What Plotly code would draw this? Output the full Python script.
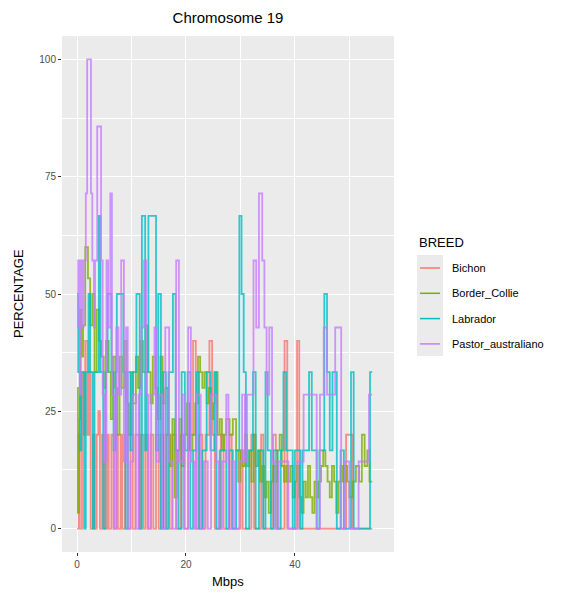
import plotly.graph_objects as go

# Percentage per breed along chromosome 19, stored as step change points (Mbps, %)
bichon_x = [0.0, 0.3, 0.5, 0.9, 1.2, 1.5, 1.9, 2.2, 2.5, 2.9, 3.2, 3.6, 3.9, 4.2, 4.6,
            5.0, 5.5, 5.8, 6.3, 6.7, 7.2, 7.5, 8.0, 8.3, 8.8, 9.3, 9.8, 10.2, 10.7, 11.3,
            11.7, 12.2, 12.6, 13.0, 13.5, 14.0, 14.5, 15.0, 15.4, 15.9, 16.5, 17.0, 17.5,
            18.2, 19.0, 19.6, 20.4, 21.3, 21.8, 22.4, 23.0, 23.6, 24.3, 24.8, 25.3, 26.4,
            26.9, 28.0, 28.4, 30.0, 30.4, 32.0, 32.5, 33.8, 34.2, 36.0, 36.5, 38.1, 38.6,
            40.4, 40.8, 49.4, 50.6, 54.2]
bichon_y = [0, 20, 0, 33.33, 20, 40, 20, 33.33, 0, 20, 0, 20, 25, 0, 20,
            0, 20, 0, 20, 0, 20, 0, 20, 0, 20, 0, 20, 0, 20, 0,
            20, 0, 20, 0, 20, 0, 20, 0, 20, 0, 20, 0, 20,
            0, 20, 0, 20, 40, 0, 20, 0, 20, 40, 20, 0, 20,
            0, 20, 0, 16.67, 0, 20, 0, 20, 0, 20, 0, 40, 0,
            40, 0, 20, 0, 0]

collie_x = [0.0, 0.15, 0.35, 0.55, 0.8, 1.1, 1.5, 2.0, 2.4, 2.8, 3.2, 3.6, 4.0, 4.4, 4.9,
            5.3, 5.8, 6.2, 6.6, 7.0, 7.4, 7.8, 8.2, 8.7, 9.1, 9.5, 9.9, 10.3, 10.8, 11.2,
            11.7, 12.1, 12.6, 13.0, 13.5, 13.9, 14.4, 14.8, 15.3, 15.7, 16.2, 16.7, 17.1,
            17.5, 17.9, 18.3, 18.8, 19.2, 19.7, 20.2, 20.7, 21.2, 21.7, 22.2, 22.6, 23.0,
            23.4, 23.8, 24.2, 24.6, 25.0, 25.4, 25.8, 26.2, 26.6, 27.0, 27.4, 28.0, 28.6,
            29.2, 29.6, 30.0, 30.4, 30.8, 31.2, 31.6, 32.0, 32.4, 32.8, 33.2, 33.6, 34.0,
            34.4, 34.8, 35.2, 35.6, 36.0, 36.4, 36.8, 37.2, 37.6, 38.0, 38.4, 38.8, 39.2,
            39.6, 40.0, 40.4, 40.8, 41.2, 41.6, 42.0, 42.4, 42.8, 43.2, 43.6, 44.0, 44.4,
            44.8, 45.2, 45.6, 46.0, 46.4, 46.8, 47.2, 47.6, 48.0, 48.4, 48.8, 49.2, 49.6,
            50.0, 50.6, 51.2, 51.8, 52.3, 52.8, 53.3, 53.7, 54.2]
collie_y = [30, 3.33, 23.33, 46.67, 36.67, 43.33, 60, 53.33, 43.33, 50, 33.33, 46.67, 40,
            36.67, 30, 40, 33.33, 23.33, 36.67, 30, 20, 36.67, 30, 40, 26.67, 20, 33.33,
            26.67, 36.67, 30, 40, 33.33, 43.33, 33.33, 26.67, 36.67, 30, 23.33, 36.67,
            26.67, 30, 20, 13.33, 23.33, 6.67, 16.67, 23.33, 13.33, 20, 26.67, 16.67, 20,
            26.67, 36.67, 33.33, 30, 33.33, 26.67, 30, 23.33, 26.67, 33.33, 20, 23.33,
            16.67, 20, 23.33, 20, 23.33, 16.67, 10, 16.67, 13.33, 20, 13.33, 16.67, 10,
            20, 13.33, 16.67, 10, 13.33, 6.67, 10, 3.33, 10, 13.33, 10, 16.67, 20, 13.33,
            10, 13.33, 10, 13.33, 6.67, 10, 13.33, 6.67, 3.33, 10, 6.67, 13.33, 6.67, 3.33,
            10, 6.67, 10, 13.33, 16.67, 13.33, 10, 6.67, 13.33, 10, 3.33, 10, 13.33, 10,
            13.33, 10, 6.67, 10, 13.33, 10, 20, 13.33, 16.67, 10, 10]

labrador_x = [0.0, 0.2, 0.5, 0.8, 1.3, 1.6, 2.1, 2.4, 2.9, 3.2, 4.0, 4.3, 4.8, 5.2, 5.6,
              6.3, 6.7, 7.1, 7.3, 8.5, 8.9, 9.3, 9.8, 10.2, 10.9, 11.5, 11.9, 12.5, 12.8,
              13.1, 14.5, 14.9, 15.4, 15.8, 16.3, 16.8, 17.6, 18.1, 18.6, 19.2, 19.8, 20.3,
              20.8, 21.3, 21.9, 22.4, 23.0, 23.8, 24.5, 25.2, 25.6, 26.2, 27.4, 27.9, 28.6,
              29.2, 29.8, 30.2, 30.6, 31.0, 31.6, 32.3, 32.8, 33.4, 34.2, 34.6, 35.0, 35.6,
              36.1, 36.8, 37.4, 37.9, 38.4, 39.6, 40.0, 41.0, 41.4, 42.6, 43.1, 44.0, 44.5,
              45.4, 45.9, 46.4, 46.9, 47.7, 48.4, 49.0, 50.3, 50.8, 53.8, 54.2]
labrador_y = [50, 33.33, 16.67, 33.33, 0, 33.33, 50, 33.33, 0, 33.33, 66.67, 33.33, 0,
              33.33, 50, 33.33, 16.67, 33.33, 50, 33.33, 0, 33.33, 16.67, 33.33, 50, 0,
              66.67, 16.67, 33.33, 66.67, 16.67, 50, 0, 33.33, 0, 33.33, 50, 16.67, 0,
              33.33, 16.67, 33.33, 0, 16.67, 33.33, 0, 16.67, 33.33, 16.67, 33.33, 0,
              16.67, 0, 16.67, 0, 16.67, 66.67, 50, 33.33, 0, 16.67, 33.33, 0, 16.67, 0,
              33.33, 16.67, 0, 16.67, 0, 16.67, 33.33, 16.67, 0, 16.67, 0, 16.67, 33.33,
              16.67, 0, 16.67, 50, 33.33, 16.67, 33.33, 0, 16.67, 0, 33.33, 0, 33.33, 33.33]

pastor_x = [0.0, 0.2, 0.5, 0.7, 1.0, 1.2, 1.6, 1.85, 2.55, 2.8, 3.1, 3.3, 3.7, 4.4, 4.7,
            5.0, 5.4, 5.7, 6.1, 6.4, 6.8, 7.2, 7.6, 8.1, 8.6, 9.0, 9.3, 9.8, 10.3, 10.8,
            11.3, 11.8, 12.3, 12.7, 13.1, 13.6, 14.2, 14.6, 15.1, 15.6, 16.2, 16.9, 17.5,
            18.2, 18.7, 19.4, 19.8, 20.4, 20.9, 21.5, 22.0, 22.7, 23.3, 24.0, 24.6, 25.5,
            26.0, 26.6, 27.4, 27.8, 28.4, 29.0, 29.8, 30.3, 30.8, 31.2, 32.4, 32.9, 33.4,
            34.0, 34.4, 34.8, 35.3, 35.8, 36.4, 37.0, 38.8, 40.5, 41.6, 44.0, 44.6, 45.3,
            45.9, 47.4, 48.5, 49.2, 50.0, 51.7, 53.6, 54.2]
pastor_y = [42.86, 57.14, 28.57, 57.14, 42.86, 57.14, 71.43, 100, 71.43, 57.14, 42.86,
            57.14, 85.71, 57.14, 28.57, 14.29, 57.14, 42.86, 71.43, 28.57, 0, 42.86,
            28.57, 57.14, 14.29, 42.86, 0, 14.29, 28.57, 0, 28.57, 42.86, 57.14, 28.57,
            0, 28.57, 42.86, 14.29, 28.57, 0, 42.86, 14.29, 0, 57.14, 14.29, 28.57, 0,
            42.86, 14.29, 0, 28.57, 0, 14.29, 0, 28.57, 14.29, 0, 14.29, 28.57, 0, 14.29,
            0, 14.29, 28.57, 14.29, 28.57, 57.14, 42.86, 71.43, 57.14, 42.86, 28.57,
            42.86, 14.29, 0, 14.29, 0, 14.29, 28.57, 0, 28.57, 42.86, 28.57, 42.86, 0,
            14.29, 0, 14.29, 28.57, 28.57]

breeds = ["Bichon", "Border_Collie", "Labrador", "Pastor_australiano"]
colors = ["#F8766D", "#7CAE00", "#00BFC4", "#C77CFF"]
series = [(bichon_x, bichon_y), (collie_x, collie_y),
          (labrador_x, labrador_y), (pastor_x, pastor_y)]

FONT = "Liberation Sans, Arial, Helvetica, sans-serif"

fig = go.Figure()
for name, col, (xs, ys) in zip(breeds, colors, series):
    fig.add_trace(go.Scatter(
        x=xs, y=ys, mode="lines", name=name,
        line=dict(color=col, width=1.8, shape="hv"),
        opacity=0.8, showlegend=False,
    ))

# panel geometry (pixels)
W, H = 566, 594
L, R, T, B = 62, 172, 36, 42
pw, ph = W - L - R, H - T - B

def px_x(p):
    return (p - L) / pw

def px_y(p):
    return (H - B - p) / ph

# ggplot-style legend drawn beside the panel
shapes = [dict(type="rect", xref="paper", yref="paper",
               x0=px_x(417), x1=px_x(443), y0=px_y(356), y1=px_y(255),
               fillcolor="#EBEBEB", line=dict(width=0), layer="below")]
annotations = [dict(text="BREED", x=px_x(417), y=px_y(242), xref="paper", yref="paper",
                    xanchor="left", yanchor="middle", showarrow=False,
                    font=dict(family=FONT, size=13, color="black"))]
for i, (name, col) in enumerate(zip(breeds, colors)):
    yc = 268 + i * 25.3
    shapes.append(dict(type="line", xref="paper", yref="paper",
                       x0=px_x(420), x1=px_x(440), y0=px_y(yc), y1=px_y(yc),
                       line=dict(color=col, width=1.5)))
    annotations.append(dict(text=name, x=px_x(450), y=px_y(yc), xref="paper", yref="paper",
                            xanchor="left", yanchor="middle", showarrow=False,
                            font=dict(family=FONT, size=11, color="black")))

annotations.append(dict(text="Mbps", x=0.5, y=px_y(581), xref="paper", yref="paper",
                        xanchor="center", yanchor="middle", showarrow=False,
                        font=dict(family=FONT, size=13, color="black")))
annotations.append(dict(text="PERCENTAGE", x=px_x(18), y=0.5, xref="paper", yref="paper",
                        xanchor="center", yanchor="middle", showarrow=False, textangle=-90,
                        font=dict(family=FONT, size=13, color="black")))

fig.update_layout(
    width=W, height=H,
    margin=dict(l=L, r=R, t=T, b=B, pad=0),
    paper_bgcolor="white", plot_bgcolor="#EBEBEB",
    title=dict(text="Chromosome 19", x=(L + pw / 2) / W, xanchor="center",
               y=1 - 18 / H, yanchor="middle",
               font=dict(family=FONT, size=15, color="black")),
    shapes=shapes, annotations=annotations,
    showlegend=False,
)
fig.update_xaxes(
    range=[-2.77, 58.2], tickvals=[0, 20, 40], ticktext=["0", "20", "40"],
    showgrid=True, gridcolor="white", gridwidth=1.1, zeroline=False, showline=False,
    ticks="outside", ticklen=3, tickcolor="#333333", tickwidth=1,
    tickfont=dict(family=FONT, size=10, color="#4D4D4D"),
    minor=dict(tickvals=[10, 30, 50], showgrid=True, gridcolor="white", gridwidth=0.5),
)
fig.update_yaxes(
    range=[-5, 105], tickvals=[0, 25, 50, 75, 100],
    showgrid=True, gridcolor="white", gridwidth=1.1, zeroline=False, showline=False,
    ticks="outside", ticklen=3, tickcolor="#333333", tickwidth=1,
    tickfont=dict(family=FONT, size=10, color="#4D4D4D"),
    minor=dict(tickvals=[12.5, 37.5, 62.5, 87.5], showgrid=True, gridcolor="white",
               gridwidth=0.5),
)

fig.write_html("out.html")
